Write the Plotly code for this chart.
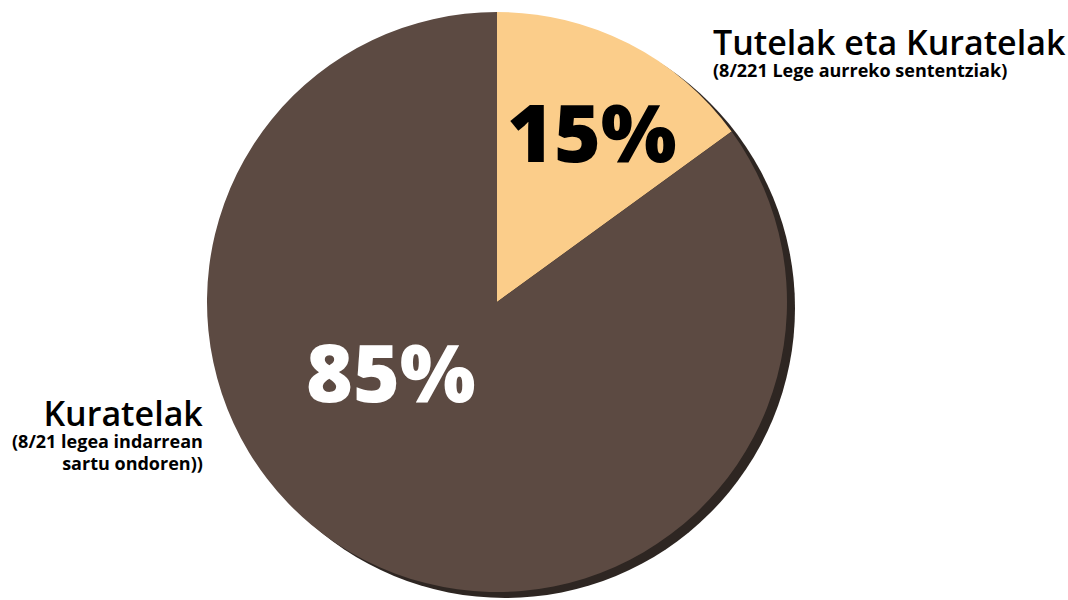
import plotly.graph_objects as go

categories = ["Tutelak eta Kuratelak", "Kuratelak"]
subtitles = ["(8/221 Lege aurreko sententziak)", "(8/21 legea indarrean<br>sartu ondoren))"]
values = [15, 85]
colors = ["#FBCD8A", "#5C4A42"]
text_colors = ["#000000", "#FFFFFF"]

W, H = 1068, 600
cx, cy, r = 497, 302, 290   # pie centre/radius in px (top-left origin)
sdx, sdy = 8, 6             # shadow offset

def dom(cx_, cy_):
    return dict(x=[(cx_ - r) / W, (cx_ + r) / W],
                y=[(H - cy_ - r) / H, (H - cy_ + r) / H])

fig = go.Figure()
fig.add_trace(go.Pie(values=[sum(values)], marker=dict(colors=["#2E2622"], line=dict(width=0)),
                     textinfo="none", hoverinfo="skip", sort=False, showlegend=False,
                     domain=dom(cx + sdx, cy + sdy)))
fig.add_trace(go.Pie(labels=categories, values=values, marker=dict(colors=colors, line=dict(width=0)),
                     textinfo="none", sort=False, direction="clockwise", rotation=0,
                     showlegend=False, domain=dom(cx, cy)))

font = "Open Sans"
# percent labels
pct_pos = [(592, 130), (391, 370)]
for v, (px, py), tc in zip(values, pct_pos, text_colors):
    fig.add_annotation(x=px / W, y=1 - py / H, xref="paper", yref="paper",
                       text=f"{v}%", showarrow=False, xanchor="center", yanchor="middle",
                       font=dict(family=font, size=80, color=tc, weight=800))

SUB = "<span style='font-size:18px;font-weight:700'>"

def label(title, sub):
    return (f"<span style='font-size:34px;font-weight:600'>{title}</span><br>"
            + SUB + sub.replace("<br>", "</span><br>" + SUB) + "</span>")

# category labels (title + subtitle in one text block)
fig.add_annotation(x=711 / W, y=1 - 51 / H, xref="paper", yref="paper",
                   text=label(categories[0], subtitles[0]),
                   showarrow=False, xanchor="left", yanchor="middle", align="left",
                   font=dict(family=font, size=17, color="#000"))
fig.add_annotation(x=205 / W, y=1 - 432 / H, xref="paper", yref="paper",
                   text=label(categories[1], subtitles[1]),
                   showarrow=False, xanchor="right", yanchor="middle", align="right",
                   font=dict(family=font, size=17, color="#000"))

fig.update_layout(width=W, height=H, margin=dict(l=0, r=0, t=0, b=0),
                  paper_bgcolor="white", plot_bgcolor="white")
fig.write_html("out.html", config={"displayModeBar": False},
               post_script="document.body.style.margin='0';document.body.style.overflow='hidden';")
